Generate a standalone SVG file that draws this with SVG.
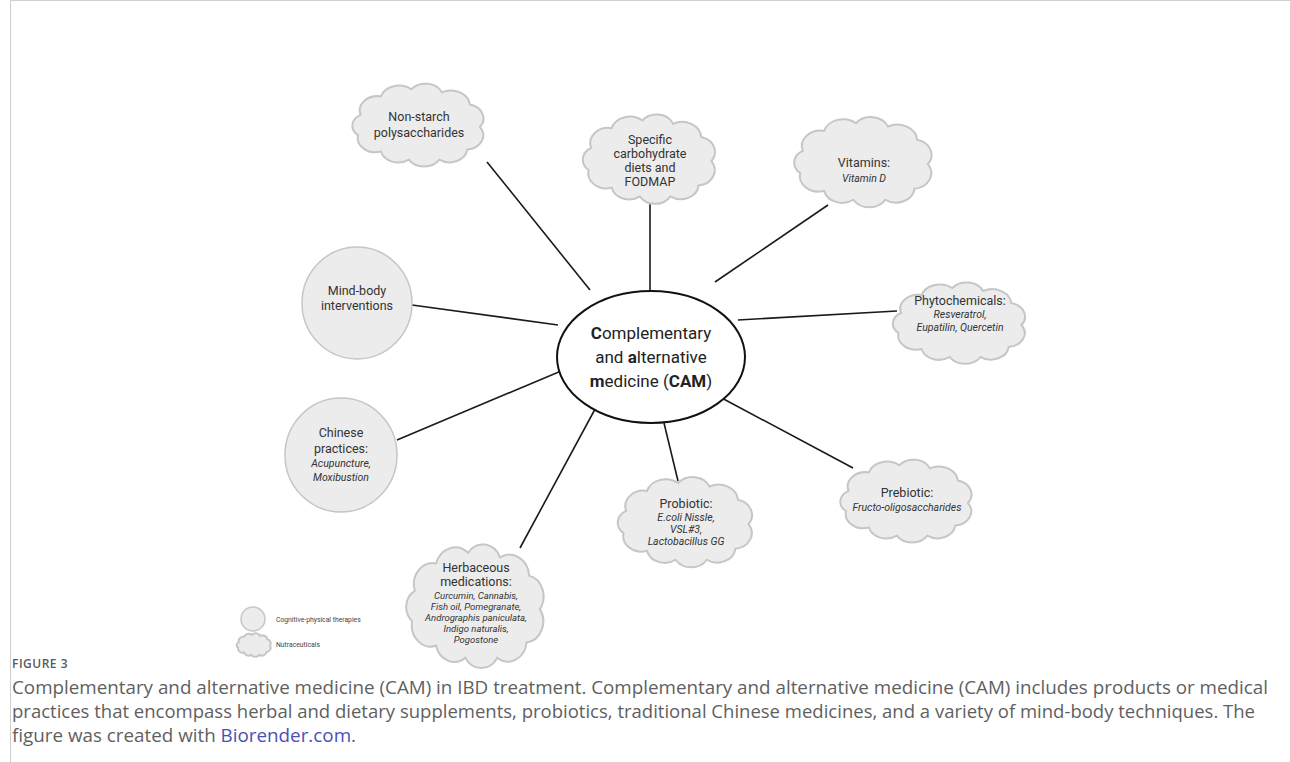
<svg xmlns="http://www.w3.org/2000/svg" xmlns:xlink="http://www.w3.org/1999/xlink" width="1290" height="762" viewBox="0 0 1290 762">
<style>
.bg{fill:#ffffff}
.frame{fill:none;stroke:#cfcfcf;stroke-width:1}
.cl{fill:#ececec;stroke:#c6c6c6;stroke-width:2;vector-effect:non-scaling-stroke}
.circ{fill:#ececec;stroke:#c6c6c6;stroke-width:1.5}
.conn{stroke:#1a1a1a;stroke-width:1.6;fill:none}
.t{font-family:Roboto,"Liberation Sans",sans-serif;font-size:12.5px;fill:#333;text-anchor:middle}
.i{font-family:Roboto,"Liberation Sans",sans-serif;font-size:10.5px;fill:#333;text-anchor:middle;font-style:italic}
.is{font-family:Roboto,"Liberation Sans",sans-serif;font-size:9.5px;fill:#333;text-anchor:middle;font-style:italic}
.c{font-family:Roboto,"Liberation Sans",sans-serif;font-size:17px;fill:#222;text-anchor:middle}
.lg{font-family:Roboto,"Liberation Sans",sans-serif;font-size:6.8px;fill:#444}
.cap{font-family:"Open Sans","Liberation Sans",sans-serif;font-size:18px;fill:#5f5f5f}
.fig{font-family:"Open Sans","Liberation Sans",sans-serif;font-size:12px;font-weight:600;fill:#5a5a5a;letter-spacing:0.5px}
</style>
<defs>
<path id="cloud" class="cl" d="M-46,-10 A14,14 0 0 1 -30,-28 A15,15 0 0 1 -6,-35 A14,14 0 0 1 18,-32 A15,15 0 0 1 40,-20 A14,14 0 0 1 48,2 A14,14 0 0 1 38,24 A14,14 0 0 1 16,34 A14,14 0 0 1 -8,34 A14,14 0 0 1 -30,26 A14,14 0 0 1 -48,10 A12,12 0 0 1 -46,-10 Z"/>
</defs>
<rect class="bg" x="0" y="0" width="1290" height="762"/>
<path class="frame" d="M1290,0.5 H10.5 V762"/>

<g id="connectors">
<line class="conn" x1="487" y1="162" x2="590" y2="290"/>
<line class="conn" x1="650" y1="203" x2="650" y2="291"/>
<line class="conn" x1="828" y1="205" x2="715" y2="282"/>
<line class="conn" x1="897" y1="311" x2="738" y2="320"/>
<line class="conn" x1="412" y1="305" x2="558" y2="325"/>
<line class="conn" x1="397" y1="440" x2="573" y2="366"/>
<line class="conn" x1="520" y1="548" x2="607" y2="387"/>
<line class="conn" x1="678" y1="481" x2="664" y2="423"/>
<line class="conn" x1="853" y1="468" x2="718" y2="396"/>
</g>

<g id="cam">
<ellipse cx="651" cy="357" rx="94" ry="66" fill="#fff" stroke="#111" stroke-width="2"/>
<text class="c" x="651" y="339"><tspan font-weight="bold">C</tspan>omplementary</text>
<text class="c" x="651" y="363">and <tspan font-weight="bold">a</tspan>lternative</text>
<text class="c" x="651" y="387"><tspan font-weight="bold">m</tspan>edicine (<tspan font-weight="bold">CAM</tspan>)</text>
</g>

<g id="nonstarch">
<use xlink:href="#cloud" transform="translate(419,125) scale(1.27,1.02)"/>
<text class="t" x="419" y="121">Non-starch</text>
<text class="t" x="419" y="137">polysaccharides</text>
</g>

<g id="specific">
<use xlink:href="#cloud" transform="translate(650,159) scale(1.28,1.1)"/>
<text class="t" x="650" y="144">Specific</text>
<text class="t" x="650" y="158">carbohydrate</text>
<text class="t" x="650" y="172">diets and</text>
<text class="t" x="650" y="186">FODMAP</text>
</g>

<g id="vitamins">
<use xlink:href="#cloud" transform="translate(864,162) scale(1.33,1.11)"/>
<text class="t" x="864" y="167" font-size="14">Vitamins:</text>
<text class="i" x="864" y="182">Vitamin D</text>
</g>

<g id="phyto">
<use xlink:href="#cloud" transform="translate(960,323) scale(1.28,1.0)"/>
<text class="t" x="960" y="305">Phytochemicals:</text>
<text class="i" x="960" y="318">Resveratrol,</text>
<text class="i" x="960" y="331">Eupatilin, Quercetin</text>
</g>

<g id="mindbody">
<ellipse class="circ" cx="357" cy="303" rx="55" ry="56"/>
<text class="t" x="357" y="295">Mind-body</text>
<text class="t" x="357" y="310">interventions</text>
</g>

<g id="chinese">
<ellipse class="circ" cx="341" cy="455" rx="56" ry="57"/>
<text class="t" x="341" y="437">Chinese</text>
<text class="t" x="341" y="453">practices:</text>
<text class="i" x="341" y="467">Acupuncture,</text>
<text class="i" x="341" y="481">Moxibustion</text>
</g>

<g id="herbaceous">
<use xlink:href="#cloud" transform="translate(476,606) scale(1.33,1.52)"/>
<text class="t" x="476" y="572">Herbaceous</text>
<text class="t" x="476" y="586">medications:</text>
<text class="is" x="476" y="599">Curcumin, Cannabis,</text>
<text class="is" x="476" y="610">Fish oil, Pomegranate,</text>
<text class="is" x="476" y="621">Andrographis paniculata,</text>
<text class="is" x="476" y="632">Indigo naturalis,</text>
<text class="is" x="476" y="643">Pogostone</text>
</g>

<g id="probiotic">
<use xlink:href="#cloud" transform="translate(686,522) scale(1.3,1.11)"/>
<text class="t" x="686" y="508">Probiotic:</text>
<text class="i" x="686" y="521">E.coli Nissle,</text>
<text class="i" x="686" y="533">VSL#3,</text>
<text class="i" x="686" y="545">Lactobacillus GG</text>
</g>

<g id="prebiotic">
<use xlink:href="#cloud" transform="translate(907,501) scale(1.27,1.02)"/>
<text class="t" x="907" y="497">Prebiotic:</text>
<text class="i" x="907" y="511">Fructo-oligosaccharides</text>
</g>

<g id="legend">
<ellipse class="circ" cx="253" cy="619" rx="12" ry="12"/>
<text class="lg" x="276" y="622">Cognitive-physical therapies</text>
<use xlink:href="#cloud" transform="translate(254,645) scale(0.33,0.29)"/>
<text class="lg" x="276" y="647">Nutraceuticals</text>
</g>

<g id="caption">
<text class="fig" x="12" y="668">FIGURE 3</text>
<text class="cap" x="12" y="694" textLength="1256" lengthAdjust="spacingAndGlyphs">Complementary and alternative medicine (CAM) in IBD treatment. Complementary and alternative medicine (CAM) includes products or medical</text>
<text class="cap" x="12" y="718" textLength="1243" lengthAdjust="spacingAndGlyphs">practices that encompass herbal and dietary supplements, probiotics, traditional Chinese medicines, and a variety of mind-body techniques. The</text>
<text class="cap" x="12" y="742" textLength="344" lengthAdjust="spacingAndGlyphs">figure was created with <tspan fill="#4a50b5">Biorender.com</tspan>.</text>
</g>
</svg>
